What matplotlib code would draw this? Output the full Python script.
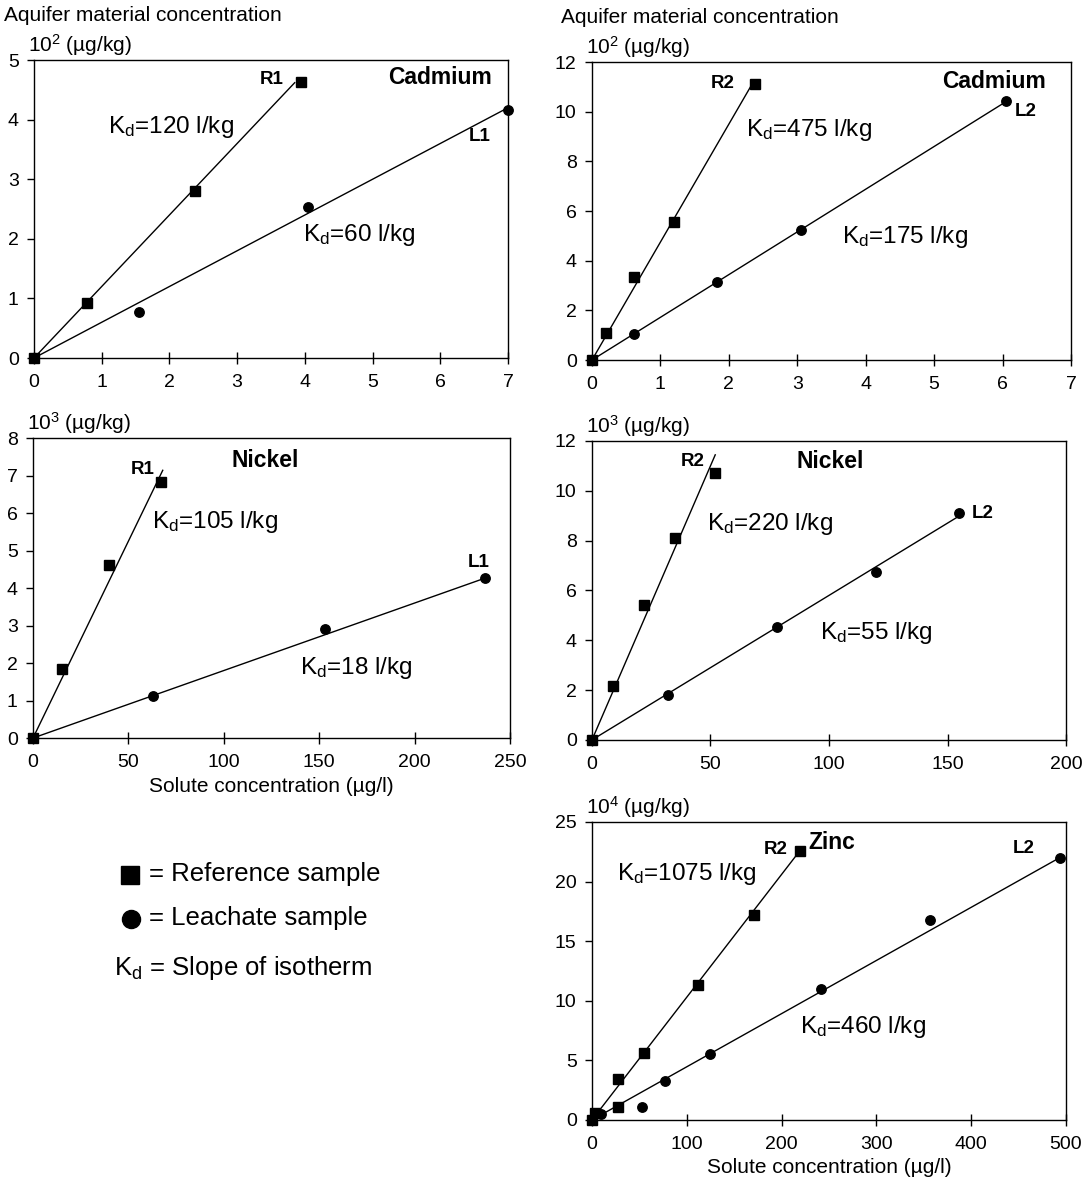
import numpy as np
import matplotlib
matplotlib.use('Agg')
import matplotlib.pyplot as plt
from matplotlib.lines import Line2D

# global plot settings
plt.rcParams['font.family'] = ['Liberation Sans', 'DejaVu Sans']
plt.rcParams['mathtext.fontset'] = 'custom'
plt.rcParams['mathtext.rm'] = 'Liberation Sans'
plt.rcParams['mathtext.it'] = 'Liberation Sans:italic'
plt.rcParams['mathtext.bf'] = 'Liberation Sans:bold'
ticksize = 14
labelsize = 15
kdsize = 17.5
boldsize = 16.5
tagsize = 13.5
keysize = 18.5
msq = 7
mci = 6.8

# ---- data (x: solute conc. in ug/l, y: aquifer conc. in scaled ug/kg) ----
# Cadmium R1 / L1  (y in 10^2 ug/kg)
cd1_ref_x = [0, 0.78, 2.38, 3.95]
cd1_ref_y = [0, 0.92, 2.80, 4.63]
cd1_lea_x = [0, 1.55, 4.05, 7.0]
cd1_lea_y = [0, 0.78, 2.53, 4.17]
cd1_slopes = [1.20, 0.60]
cd1_ends = [3.85, 7.0]

# Cadmium R2 / L2  (y in 10^2 ug/kg)
cd2_ref_x = [0, 0.20, 0.62, 1.20, 2.38]
cd2_ref_y = [0, 1.10, 3.35, 5.55, 11.1]
cd2_lea_x = [0, 0.62, 1.83, 3.05, 6.05]
cd2_lea_y = [0, 1.05, 3.15, 5.25, 10.45]
cd2_slopes = [4.75, 1.72]
cd2_ends = [2.35, 6.05]

# Nickel R1 / L1  (y in 10^3 ug/kg)
ni1_ref_x = [0, 15, 40, 67]
ni1_ref_y = [0, 1.85, 4.62, 6.82]
ni1_lea_x = [0, 63, 153, 237]
ni1_lea_y = [0, 1.12, 2.92, 4.27]
ni1_slopes = [0.105, 0.018]
ni1_ends = [68, 237]

# Nickel R2 / L2  (y in 10^3 ug/kg)
ni2_ref_x = [0, 9, 22, 35, 52]
ni2_ref_y = [0, 2.18, 5.42, 8.10, 10.7]
ni2_lea_x = [0, 32, 78, 120, 155]
ni2_lea_y = [0, 1.82, 4.55, 6.75, 9.10]
ni2_slopes = [0.22, 0.058]
ni2_ends = [52, 155]

# Zinc R2 / L2  (y in 10^4 ug/kg)
zn2_ref_x = [0, 3, 27, 27, 55, 112, 171, 219]
zn2_ref_y = [0, 0.6, 1.05, 3.4, 5.6, 11.3, 17.2, 22.6]
zn2_lea_x = [0, 10, 53, 77, 125, 242, 357, 494]
zn2_lea_y = [0, 0.5, 1.05, 3.3, 5.5, 11.0, 16.8, 22.0]
zn2_slopes = [0.103, 0.0446]
zn2_ends = [219, 494]


def panel(ax, ref_x, ref_y, lea_x, lea_y, slopes, ends, xmax, ymax, xstep, ystep, exp):
    for s, e in zip(slopes, ends):
        xx = np.array([0, e])
        ax.plot(xx, s * xx, color='black', lw=1.0, zorder=2, clip_on=False)
    ax.plot(ref_x, ref_y, 's', color='black', ms=msq, zorder=3, clip_on=False)
    ax.plot(lea_x, lea_y, 'o', color='black', ms=mci, zorder=3, clip_on=False)
    ax.set_xlim(0, xmax)
    ax.set_ylim(0, ymax)
    ax.set_xticks(np.arange(0, xmax + xstep / 2, xstep))
    ax.set_yticks(np.arange(0, ymax + ystep / 2, ystep))
    ax.tick_params(axis='x', direction='inout', length=9, width=1, labelsize=ticksize, pad=7)
    ax.tick_params(axis='y', direction='out', length=5, width=1, labelsize=ticksize, pad=6)
    for sp in ax.spines.values():
        sp.set_linewidth(1.0)
    ax.text(-0.013, 1.05, r'10$^{%d}$ (µg/kg)' % exp, transform=ax.transAxes,
            ha='left', va='center', fontsize=labelsize)


def kd(ax, x, y, txt):
    ax.text(x, y, r'K$_\mathrm{d}$=' + txt, fontsize=kdsize, ha='left', va='center')


def bold(ax, x, y, txt, ha='center', size=tagsize):
    ax.text(x, y, txt, fontsize=size, fontweight='bold', ha=ha, va='center')


fig = plt.figure(figsize=(10.89, 11.82), dpi=100)

ax1 = fig.add_axes([0.0312, 0.6971, 0.4353, 0.2521])
ax2 = fig.add_axes([0.5436, 0.6954, 0.4399, 0.2521])
ax3 = fig.add_axes([0.0303, 0.3756, 0.4380, 0.2538])
ax4 = fig.add_axes([0.5436, 0.3740, 0.4353, 0.2530])
ax5 = fig.add_axes([0.5436, 0.0525, 0.4353, 0.2521])

panel(ax1, cd1_ref_x, cd1_ref_y, cd1_lea_x, cd1_lea_y, cd1_slopes, cd1_ends, 7, 5, 1, 1, 2)
bold(ax1, 3.68, 4.68, 'R1', ha='right')
bold(ax1, 6.0, 4.70, 'Cadmium', size=boldsize)
kd(ax1, 1.09, 3.88, '120 l/kg')
bold(ax1, 6.75, 3.71, 'L1', ha='right')
kd(ax1, 3.97, 2.06, '60 l/kg')

panel(ax2, cd2_ref_x, cd2_ref_y, cd2_lea_x, cd2_lea_y, cd2_slopes, cd2_ends, 7, 12, 1, 2, 2)
bold(ax2, 2.09, 11.15, 'R2', ha='right')
bold(ax2, 5.88, 11.2, 'Cadmium', size=boldsize)
bold(ax2, 6.18, 10.0, 'L2', ha='left')
kd(ax2, 2.25, 9.27, '475 l/kg')
kd(ax2, 3.66, 4.96, '175 l/kg')

panel(ax3, ni1_ref_x, ni1_ref_y, ni1_lea_x, ni1_lea_y, ni1_slopes, ni1_ends, 250, 8, 50, 1, 3)
bold(ax3, 64, 7.17, 'R1', ha='right')
bold(ax3, 121.6, 7.41, 'Nickel', size=boldsize)
kd(ax3, 62.4, 5.76, '105 l/kg')
bold(ax3, 233.5, 4.67, 'L1')
kd(ax3, 140, 1.87, '18 l/kg')
ax3.set_xlabel('Solute concentration (µg/l)', fontsize=labelsize, labelpad=4)

panel(ax4, ni2_ref_x, ni2_ref_y, ni2_lea_x, ni2_lea_y, ni2_slopes, ni2_ends, 200, 12, 50, 2, 3)
bold(ax4, 47.7, 11.16, 'R2', ha='right')
bold(ax4, 100.4, 11.16, 'Nickel', size=boldsize)
kd(ax4, 48.5, 8.67, '220 l/kg')
bold(ax4, 160.3, 9.1, 'L2', ha='left')
kd(ax4, 96.2, 4.3, '55 l/kg')

panel(ax5, zn2_ref_x, zn2_ref_y, zn2_lea_x, zn2_lea_y, zn2_slopes, zn2_ends, 500, 25, 100, 5, 4)
bold(ax5, 206.8, 22.7, 'R2', ha='right')
bold(ax5, 228, 23.3, 'Zinc', ha='left', size=boldsize)
kd(ax5, 26.4, 20.6, '1075 l/kg')
bold(ax5, 467, 22.8, 'L2', ha='right')
kd(ax5, 219, 7.8, '460 l/kg')
ax5.set_xlabel('Solute concentration (µg/l)', fontsize=labelsize, labelpad=4)

# y-axis header above the top row
for ax in (ax1, ax2):
    ax.text(-0.064, 1.15, 'Aquifer material concentration', transform=ax.transAxes,
            ha='left', va='center', fontsize=labelsize)

# key in the empty lower-left corner
fig.add_artist(Line2D([130 / 1089], [1 - 875 / 1182], transform=fig.transFigure,
                      marker='s', color='black', ms=12.5, ls=''))
fig.add_artist(Line2D([131 / 1089], [1 - 919 / 1182], transform=fig.transFigure,
                      marker='o', color='black', ms=13, ls=''))
fig.text(149 / 1089, 1 - 874 / 1182, '= Reference sample', fontsize=keysize, va='center')
fig.text(149 / 1089, 1 - 918 / 1182, '= Leachate sample', fontsize=keysize, va='center')
fig.text(114 / 1089, 1 - 968 / 1182, r'K$_\mathrm{d}$ = Slope of isotherm', fontsize=keysize, va='center')

fig.savefig('out.png', dpi=100)
plt.close(fig)
